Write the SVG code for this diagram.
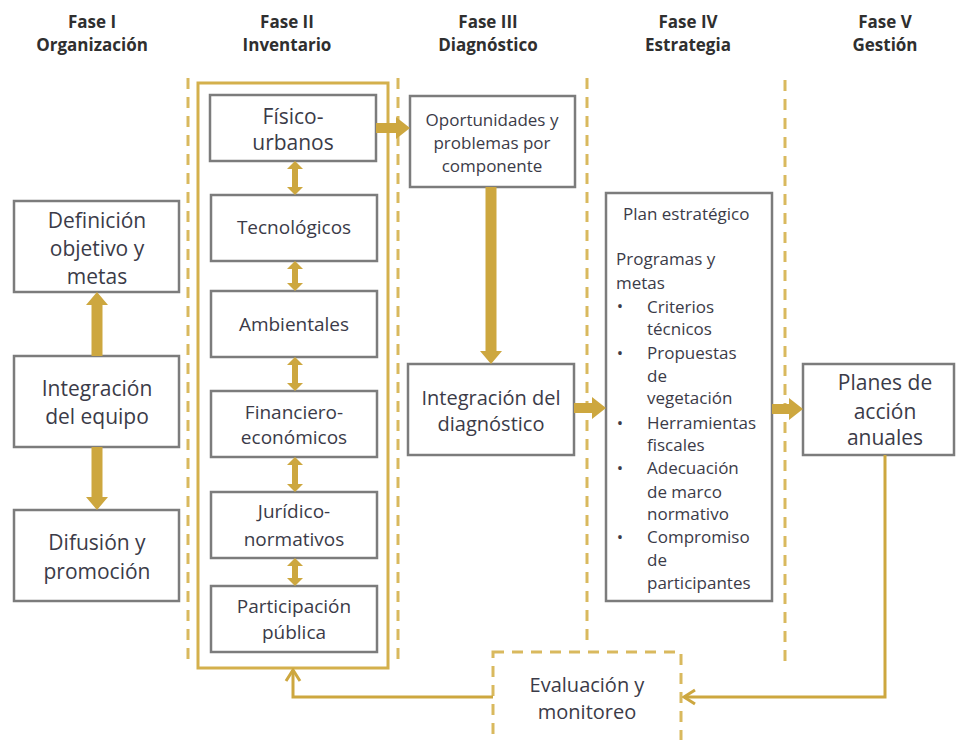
<svg xmlns="http://www.w3.org/2000/svg" width="956" height="740" viewBox="0 0 956 740">
<style>
text{font-family:"Open Sans","Liberation Sans",sans-serif;fill:#3b3b48;text-anchor:middle}
.hd{font-weight:bold;font-size:17px;fill:#2f2f2f}
.box{fill:#fff;stroke:#7c7c7c;stroke-width:2.5}
.t21{font-size:21px}
.t19{font-size:19px}
.t17{font-size:17px}
.t20{font-size:20px}
.lft{text-anchor:start}
.dash{fill:none;stroke:#D9B95E;stroke-width:3;stroke-dasharray:11 8}
.blk{fill:#CDA73F}
.fb{fill:none;stroke:#CDA73F;stroke-width:3}
</style>
<defs>
<marker id="chev" viewBox="-13 -9 15 18" refX="0" refY="0" markerWidth="15" markerHeight="18" markerUnits="userSpaceOnUse" orient="auto">
<path d="M-11,-7 L0,0 L-11,7" fill="none" stroke="#CDA73F" stroke-width="3"/>
</marker>
</defs>
<rect width="956" height="740" fill="#fff"/>

<g id="headers">
<text class="hd" x="92" y="28">Fase I</text>
<text class="hd" x="92" y="51">Organización</text>
<text class="hd" x="287" y="28">Fase II</text>
<text class="hd" x="287" y="51">Inventario</text>
<text class="hd" x="488" y="28">Fase III</text>
<text class="hd" x="488" y="51">Diagnóstico</text>
<text class="hd" x="688" y="28">Fase IV</text>
<text class="hd" x="688" y="51">Estrategia</text>
<text class="hd" x="885" y="28">Fase V</text>
<text class="hd" x="885" y="51">Gestión</text>
</g>

<g id="phase-dividers">
<line class="dash" x1="188" y1="78" x2="188" y2="662"/>
<line class="dash" x1="398" y1="78" x2="398" y2="662"/>
<line class="dash" x1="587" y1="78" x2="587" y2="645"/>
<line class="dash" x1="785" y1="80" x2="785" y2="663"/>
</g>

<g id="inventario-frame">
<rect x="198" y="83" width="190" height="585" fill="none" stroke="#D4B04C" stroke-width="3"/>
</g>

<g id="definicion">
<rect class="box" x="14" y="201" width="165" height="91"/>
<text class="t21" x="97" y="228">Definición</text>
<text class="t21" x="97" y="256">objetivo y</text>
<text class="t21" x="97" y="284">metas</text>
</g>
<g id="integracion-equipo">
<rect class="box" x="14" y="356" width="165" height="91"/>
<text class="t21" x="97" y="396">Integración</text>
<text class="t21" x="97" y="424">del equipo</text>
</g>
<g id="difusion">
<rect class="box" x="14" y="510" width="165" height="91"/>
<text class="t21" x="97" y="550">Difusión y</text>
<text class="t21" x="97" y="579">promoción</text>
</g>

<g id="fisico-urbanos">
<rect class="box" x="210" y="95" width="166" height="66"/>
<text class="t21" x="293" y="124">Físico-</text>
<text class="t21" x="293" y="150">urbanos</text>
</g>
<g id="tecnologicos">
<rect class="box" x="211" y="195" width="166" height="66"/>
<text class="t19" x="294" y="234">Tecnológicos</text>
</g>
<g id="ambientales">
<rect class="box" x="211" y="291" width="166" height="66"/>
<text class="t19" x="294" y="331">Ambientales</text>
</g>
<g id="financiero">
<rect class="box" x="211" y="391" width="166" height="66"/>
<text class="t19" x="294" y="419">Financiero-</text>
<text class="t19" x="294" y="444">económicos</text>
</g>
<g id="juridico">
<rect class="box" x="211" y="492" width="166" height="66"/>
<text class="t19" x="294" y="518">Jurídico-</text>
<text class="t19" x="294" y="546">normativos</text>
</g>
<g id="participacion">
<rect class="box" x="211" y="586" width="166" height="66"/>
<text class="t19" x="294" y="613">Participación</text>
<text class="t19" x="294" y="639">pública</text>
</g>

<g id="oportunidades">
<rect class="box" x="410" y="96" width="165" height="91"/>
<text class="t17" x="492" y="126">Oportunidades y</text>
<text class="t17" x="492" y="149">problemas por</text>
<text class="t17" x="492" y="172">componente</text>
</g>
<g id="integracion-diagnostico">
<rect class="box" x="408" y="364" width="166" height="91"/>
<text class="t20" x="491" y="405">Integración del</text>
<text class="t20" x="491" y="431">diagnóstico</text>
</g>

<g id="plan-estrategico">
<rect class="box" x="606" y="193" width="166" height="408"/>
<text class="t17 lft" x="623" y="220">Plan estratégico</text>
<text class="t17 lft" x="616" y="265">Programas y</text>
<text class="t17 lft" x="616" y="289">metas</text>
<g class="t17">
<text x="620" y="312">•</text>
<text x="620" y="359">•</text>
<text x="620" y="429">•</text>
<text x="620" y="474">•</text>
<text x="620" y="543">•</text>
</g>
<text class="t17 lft" x="647" y="313">Criterios</text>
<text class="t17 lft" x="647" y="335">técnicos</text>
<text class="t17 lft" x="647" y="359">Propuestas</text>
<text class="t17 lft" x="647" y="382">de</text>
<text class="t17 lft" x="647" y="404">vegetación</text>
<text class="t17 lft" x="647" y="429">Herramientas</text>
<text class="t17 lft" x="647" y="451">fiscales</text>
<text class="t17 lft" x="647" y="474">Adecuación</text>
<text class="t17 lft" x="647" y="498">de marco</text>
<text class="t17 lft" x="647" y="520">normativo</text>
<text class="t17 lft" x="647" y="543">Compromiso</text>
<text class="t17 lft" x="647" y="566">de</text>
<text class="t17 lft" x="647" y="589">participantes</text>
</g>

<g id="planes-accion">
<rect class="box" x="803" y="364" width="151" height="91"/>
<text class="t21" x="885" y="390">Planes de</text>
<text class="t21" x="885" y="419">acción</text>
<text class="t21" x="885" y="445">anuales</text>
</g>

<g id="evaluacion">
<rect class="dash" x="493" y="652" width="188" height="100"/>
<text class="t20" x="587" y="692">Evaluación y</text>
<text class="t20" x="587" y="719">monitoreo</text>
</g>

<g id="connectors">
<path class="blk" d="M376,123 H396 V117 L410,128 L396,139 V133 H376 Z"/>
<path class="blk" d="M574,403 H592 V397 L606,408 L592,419 V413 H574 Z"/>
<path class="blk" d="M772,404 H789 V398 L803,409 L789,420 V414 H772 Z"/>
<path class="blk" d="M91.5,356 V305 H86 L97,292 L108,305 H102.5 V356 Z"/>
<path class="blk" d="M91.5,447 V497 H86 L97,510 L108,497 H102.5 V447 Z"/>
<path class="blk" d="M485.5,187 V351 H480 L491,364 L502,351 H496.5 V187 Z"/>
<path class="blk" d="M295,161 L303,169 H298 V187 H303 L295,195 L287,187 H292 V169 H287 Z"/>
<path class="blk" d="M295,261 L303,269 H298 V283 H303 L295,291 L287,283 H292 V269 H287 Z"/>
<path class="blk" d="M295,357 L303,365 H298 V383 H303 L295,391 L287,383 H292 V365 H287 Z"/>
<path class="blk" d="M295,457 L303,465 H298 V484 H303 L295,492 L287,484 H292 V465 H287 Z"/>
<path class="blk" d="M295,558 L303,566 H298 V578 H303 L295,586 L287,578 H292 V566 H287 Z"/>
<path class="fb" d="M885,455 V697 H684" marker-end="url(#chev)"/>
<path class="fb" d="M493,697 H293 V670" marker-end="url(#chev)"/>
</g>
</svg>
